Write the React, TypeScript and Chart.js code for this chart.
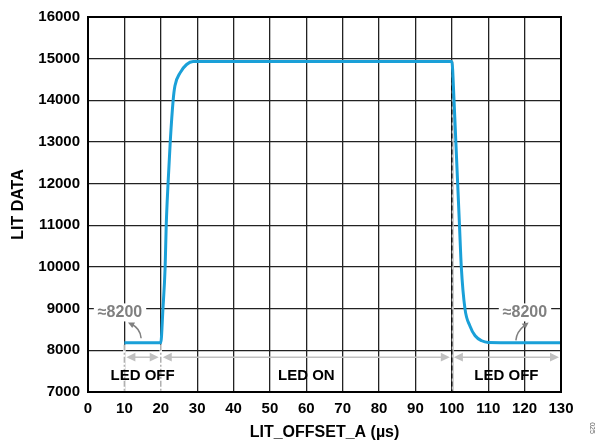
import React, { useEffect, useRef } from "react";
import { Chart, registerables } from "chart.js";

Chart.register(...registerables);

// Data
const xValues = [10, 20, 20.6, 21.2, 21.5, 22.0, 22.6, 23.4, 23.9, 25.3, 27.1, 28.9, 30, 100, 100.6, 101.1, 101.6, 102.1, 102.6, 103.6, 105.0, 106.4, 108.2, 110, 130];
const yValues = [8180, 8180, 9000, 10000, 11000, 12000, 13000, 14000, 14350, 14660, 14860, 14930, 14930, 14930, 14000, 13000, 12000, 11000, 10000, 9000, 8580, 8350, 8230, 8190, 8180];

// Annotations (data coordinates)
const ledSpanStarts = [10, 20, 100];
const ledSpanEnds = [20, 100, 130];
const ledSpanLabels = ["LED OFF", "LED ON", "LED OFF"];
const ledArrowY = 7835;
const ledLabelY = 7380;
const levelLabel = "≈8200";
const levelLabelX = [8.8, 120.1];
const levelLabelY = 8910;
const levelArrowTail = [[14.6, 8290], [117.6, 8240]];
const levelArrowMid = [[14.4, 8520], [117.8, 8450]];
const levelArrowHead = [[11.0, 8670], [121.1, 8670]];
const baseLevel = 8180;
const edgeX = [10, 20];
const ledOffX = 100;

const FONT = "'Liberation Sans', Arial, Helvetica, sans-serif";

function arrowHead(ctx: CanvasRenderingContext2D, x: number, y: number, fromX: number, fromY: number, size: number) {
  const ang = Math.atan2(y - fromY, x - fromX);
  ctx.beginPath();
  ctx.moveTo(x, y);
  ctx.lineTo(x - size * Math.cos(ang - 0.45), y - size * Math.sin(ang - 0.45));
  ctx.lineTo(x - size * Math.cos(ang + 0.45), y - size * Math.sin(ang + 0.45));
  ctx.closePath();
  ctx.fill();
}

const annotationPlugin = {
  id: "annot",
  beforeDatasetsDraw(chart: any) {
    const { ctx, scales } = chart;
    const xs = scales.x, ys = scales.y;
    ctx.save();
    edgeX.forEach((xv) => {
      const px = xs.getPixelForValue(xv);
      ctx.strokeStyle = "#ffffff";
      ctx.lineWidth = 2.5;
      ctx.beginPath();
      ctx.moveTo(px, ys.getPixelForValue(baseLevel) + 2);
      ctx.lineTo(px, ys.getPixelForValue(7000) - 1);
      ctx.stroke();
      ctx.strokeStyle = "#b0b0b0";
      ctx.lineWidth = 1.5;
      ctx.setLineDash([6, 2, 2, 2]);
      ctx.beginPath();
      ctx.moveTo(px, ys.getPixelForValue(baseLevel) + 2);
      ctx.lineTo(px, ys.getPixelForValue(7000) - 1);
      ctx.stroke();
      ctx.setLineDash([]);
    });
    const p100 = xs.getPixelForValue(ledOffX);
    ctx.strokeStyle = "#c8c8c8";
    ctx.lineWidth = 2;
    ctx.beginPath();
    ctx.moveTo(p100 + 1, ys.getPixelForValue(14930));
    ctx.lineTo(p100 + 1, ys.getPixelForValue(7000));
    ctx.stroke();
    ctx.strokeStyle = "#000000";
    ctx.lineWidth = 1.2;
    ctx.setLineDash([5, 3]);
    ctx.beginPath();
    ctx.moveTo(p100, ys.getPixelForValue(14930));
    ctx.lineTo(p100, ys.getPixelForValue(7000));
    ctx.stroke();
    ctx.setLineDash([]);
    ctx.restore();
  },
  afterDatasetsDraw(chart: any) {
    const { ctx, scales } = chart;
    const xs = scales.x, ys = scales.y;
    ctx.save();
    const ay = ys.getPixelForValue(ledArrowY);
    ctx.strokeStyle = "#c0c0c0";
    ctx.fillStyle = "#c0c0c0";
    ctx.lineWidth = 1.5;
    for (let i = 0; i < ledSpanStarts.length; i++) {
      const x1 = xs.getPixelForValue(ledSpanStarts[i]) + 2;
      const x2 = xs.getPixelForValue(ledSpanEnds[i]) - 2;
      ctx.beginPath();
      ctx.moveTo(x1 + 4, ay);
      ctx.lineTo(x2 - 4, ay);
      ctx.stroke();
      arrowHead(ctx, x1, ay, x1 + 10, ay, 10);
      arrowHead(ctx, x2, ay, x2 - 10, ay, 10);
      ctx.fillStyle = "#000000";
      ctx.font = `bold 15px ${FONT}`;
      ctx.textAlign = "center";
      ctx.textBaseline = "middle";
      ctx.fillText(ledSpanLabels[i], (xs.getPixelForValue(ledSpanStarts[i]) + xs.getPixelForValue(ledSpanEnds[i])) / 2, ys.getPixelForValue(ledLabelY));
      ctx.fillStyle = "#c0c0c0";
    }
    ctx.font = `bold 16px ${FONT}`;
    ctx.textAlign = "center";
    ctx.textBaseline = "middle";
    for (let i = 0; i < levelLabelX.length; i++) {
      const tx = xs.getPixelForValue(levelLabelX[i]);
      const ty = ys.getPixelForValue(levelLabelY);
      const w = ctx.measureText(levelLabel).width;
      ctx.fillStyle = "#ffffff";
      ctx.fillRect(tx - w / 2 - 4, ty - 9, w + 8, 18);
      ctx.fillStyle = "#808080";
      ctx.fillText(levelLabel, tx, ty);
      const t = levelArrowTail[i], m = levelArrowMid[i], h = levelArrowHead[i];
      const tp = [xs.getPixelForValue(t[0]), ys.getPixelForValue(t[1])];
      const mp = [xs.getPixelForValue(m[0]), ys.getPixelForValue(m[1])];
      const hp = [xs.getPixelForValue(h[0]), ys.getPixelForValue(h[1])];
      ctx.strokeStyle = "#808080";
      ctx.lineWidth = 1.5;
      ctx.beginPath();
      ctx.moveTo(tp[0], tp[1]);
      ctx.quadraticCurveTo(mp[0], mp[1], hp[0] + (mp[0] - hp[0]) * 0.3, hp[1] + (mp[1] - hp[1]) * 0.3);
      ctx.stroke();
      arrowHead(ctx, hp[0], hp[1], mp[0], mp[1], 7);
    }
    ctx.fillStyle = "#666666";
    ctx.font = `7px ${FONT}`;
    ctx.translate(592, 428);
    ctx.rotate(Math.PI / 2);
    ctx.textAlign = "center";
    ctx.fillText("025", 0, 0);
    ctx.restore();
  },
};

export default function App() {
  const ref = useRef<HTMLCanvasElement>(null);
  useEffect(() => {
    document.body.style.margin = "0";
    const points = xValues.map((x, i) => ({ x, y: yValues[i] }));
    const chart = new Chart(ref.current as HTMLCanvasElement, {
      type: "line",
      data: {
        datasets: [
          {
            data: points,
            borderColor: "#1aa0d8",
            borderWidth: 3,
            pointRadius: 0,
            cubicInterpolationMode: "monotone",
            fill: false,
          },
        ],
      },
      options: {
        responsive: false,
        animation: false,
        layout: { padding: { top: 15, right: 37, left: 0, bottom: 0 } },
        plugins: { legend: { display: false }, tooltip: { enabled: false } },
        scales: {
          x: {
            type: "linear",
            min: 0,
            max: 130,
            ticks: { stepSize: 10, color: "#000", font: { family: FONT, size: 15, weight: "bold" }, padding: 8, maxRotation: 0 },
            grid: { color: "#222", lineWidth: 1.3, drawTicks: false },
            border: { color: "#000", width: 2 },
            title: { display: true, text: "LIT_OFFSET_A (µs)", color: "#000", font: { family: FONT, size: 16, weight: "bold" }, padding: { top: 2, bottom: 2 } },
            afterFit: (s: any) => { s.height = 52; },
          },
          y: {
            min: 7000,
            max: 16000,
            ticks: { stepSize: 1000, color: "#000", font: { family: FONT, size: 15, weight: "bold" }, padding: 8, callback: (v: any) => String(v) },
            grid: { color: "#222", lineWidth: 1.3, drawTicks: false },
            border: { color: "#000", width: 2 },
            title: { display: true, text: "LIT DATA", color: "#000", font: { family: FONT, size: 16, weight: "bold" }, padding: { top: 9, bottom: 0 } },
            afterFit: (s: any) => { s.width = 88; },
          },
        },
      },
      plugins: [
        annotationPlugin,
        {
          id: "frame",
          afterDraw(chart: any) {
            const { ctx, chartArea } = chart;
            ctx.save();
            ctx.strokeStyle = "#000";
            ctx.lineWidth = 2;
            ctx.strokeRect(chartArea.left, chartArea.top, chartArea.right - chartArea.left, chartArea.bottom - chartArea.top);
            ctx.restore();
          },
        },
      ],
    } as any);
    return () => chart.destroy();
  }, []);
  return (
    <div style={{ position: "fixed", left: 0, top: 0, width: 598, height: 444, background: "#fff" }}>
      <canvas ref={ref} width={598} height={444} />
    </div>
  );
}
